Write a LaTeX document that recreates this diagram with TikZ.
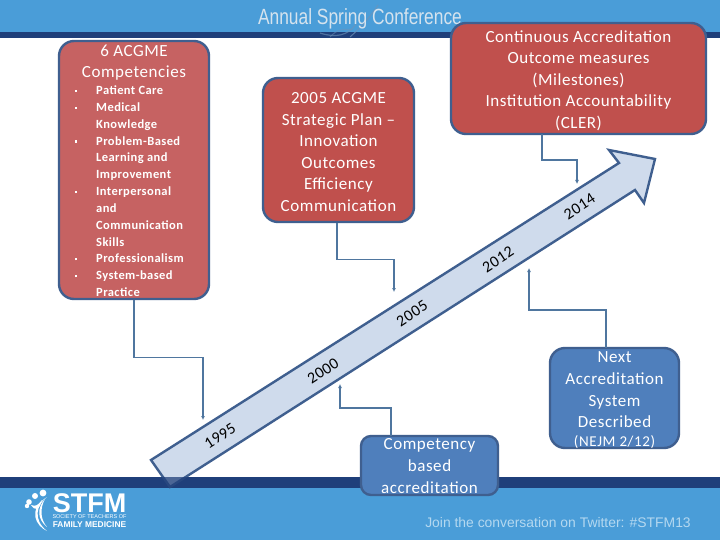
\documentclass[tikz,border=0pt]{standalone}
\usepackage{fontspec}
\setmainfont{Carlito}
\newfontfamily\hfont{Liberation Sans}
\usetikzlibrary{arrows.meta}
\definecolor{hblue}{HTML}{4A9DD8}
\definecolor{hdark}{HTML}{1F3F7A}
\definecolor{edgeb}{HTML}{3F5F8F}
\definecolor{redbox}{HTML}{C0504D}
\definecolor{redlight}{HTML}{C66262}
\definecolor{bluebox}{HTML}{4F7FBC}
\definecolor{arrowfill}{HTML}{CFDBEC}
\definecolor{linkc}{HTML}{4F769F}
\definecolor{htext}{HTML}{D5E3EE}
\definecolor{ftext}{HTML}{B4D8F0}
\definecolor{swirl}{HTML}{6F93B8}
\tikzset{
  box/.style={draw=edgeb,line width=2.4pt,rounded corners=15pt,inner sep=0pt},
  boxtxt/.style={text=white,align=center,inner sep=0pt,font=\fontsize{17}{21.6}\selectfont\addfontfeature{LetterSpace=3.3}},
  listtxt/.style={text=white,align=left,inner sep=0pt,font=\fontsize{12.5}{16.85}\selectfont\bfseries\addfontfeature{LetterSpace=3.4}},
  link/.style={draw=linkc,line width=1.4pt,-{Latex[length=4pt,width=4pt]}},
  yr/.style={rotate=33,text=black,inner sep=0pt,font=\fontsize{16}{16}\selectfont\addfontfeature{LetterSpace=3}}
}
\newcommand{\bl}{\makebox[22pt][l]{\hspace{1pt}\rule[2.5pt]{2.2pt}{2.2pt}}}
\newcommand{\ind}{\hspace*{22pt}}
\begin{document}
\begin{tikzpicture}[x=1pt,y=-1pt]
\useasboundingbox (0,0) rectangle (720,540);
\fill[white] (0,0) rectangle (720,540);
% header / footer
\fill[hblue] (0,0) rectangle (720,32);
\fill[hdark] (0,32) rectangle (720,38);
\fill[hblue] (0,488) rectangle (720,540);
\fill[hdark] (0,477) rectangle (720,488);
\draw[swirl,opacity=.7,line width=1pt] (378,5) .. controls (368,20) and (360,28) .. (350,37);
\draw[swirl,opacity=.6,line width=1.2pt] (320,33) .. controls (335,38) and (348,36) .. (356,24);
\draw[swirl,opacity=.5,line width=1pt] (330,37) .. controls (336,30) and (344,28) .. (352,30);
\node[text=htext,inner sep=0pt,anchor=center] (title) at (360,19) {\hfont\fontsize{22}{22}\selectfont\addfontfeature{FakeStretch=.79}Annual Spring Conference};
% footer text
\node[text=ftext,inner sep=0pt] (join) at (558,522.5) {\hfont\fontsize{13.9}{13.9}\selectfont Join the conversation on Twitter: \#STFM13};
\node[text=white,inner sep=0pt] (stfm) at (89.5,503) {\hfont\bfseries\fontsize{27}{27}\selectfont STFM};
\node[text=white,inner sep=0pt] (soc) at (89.5,517) {\hfont\fontsize{5.5}{5.5}\selectfont SOCIETY OF TEACHERS OF};
\node[text=white,inner sep=0pt] (fam) at (89.5,524.5) {\hfont\bfseries\fontsize{8.4}{8.4}\selectfont FAMILY MEDICINE};
% logo
\fill[white] (43,493) circle (3.4pt) (35,496) circle (3pt) (29,502) circle (2.8pt) (27,506) circle (2.2pt);
\fill[white] (47,497) .. controls (36,505) and (33,520) .. (47,531) .. controls (36,526) and (27,510) .. (47,497) -- cycle;
\fill[white] (45,499) .. controls (40,508) and (40,519) .. (47,527) .. controls (37,519) and (37,508) .. (45,499) -- cycle;
\fill[white] (31,505) .. controls (36,507) and (38,505) .. (42,500) .. controls (39,511) and (35,511) .. (31,505) -- cycle;
% arrow
\draw[edgeb,line width=2.4pt,fill=arrowfill,line join=miter]
  (151,460) -- (619,163) -- (609,150) -- (655,159) -- (644,203) -- (635,190) -- (170,487) -- cycle;
\begin{scope}
\clip (0,477) rectangle (720,488);
\fill[hdark,opacity=.75] (140,477) rectangle (200,488);
\end{scope}
% year labels
\node[yr] (y95) at (220,436) {1995};
\node[yr] (y00) at (323,371) {2000};
\node[yr] (y05) at (412,313.5) {2005};
\node[yr] (y12) at (498,259.5) {2012};
\node[yr] (y14) at (579.5,206.5) {2014};
% boxes
\node[box,fill=redlight,minimum width=150pt,minimum height=258pt] (b1) at (134,170) {};
\node[box,fill=redbox,minimum width=151pt,minimum height=144pt] (b2) at (338.5,150) {};
\node[box,fill=redbox,minimum width=255pt,minimum height=111pt] (b3) at (578.5,78.5) {};
\node[box,fill=bluebox,minimum width=129pt,minimum height=100pt] (b4) at (614.5,398) {};
\node[box,fill=bluebox,rounded corners=10pt,minimum width=137pt,minimum height=59pt] (b5) at (429.5,465.5) {};
% texts
\node[boxtxt,anchor=center] (t1) at (134,62.5) {6 ACGME\\Competencies};
\node[listtxt,anchor=north west] (t1b) at (74,85.5) {\bl Patient Care\\
\bl Medical\\
\ind Knowledge\\
\bl Problem-Based\\
\ind Learning and\\
\ind Improvement\\
\bl Interpersonal\\
\ind and\\
\ind Communication\\
\ind Skills\\
\bl Professionalism\\
\bl System-based\\
\ind Practice};
\node[boxtxt,anchor=center] (t2) at (338.5,152) {2005 ACGME\\Strategic Plan --\\Innovation\\Outcomes\\Efficiency\\Communication};
\node[boxtxt,anchor=center] (t3) at (578.5,80.5) {Continuous Accreditation\\Outcome measures\\(Milestones)\\Institution Accountability\\(CLER)};
\node[boxtxt,anchor=center] (t4) at (614.5,390) {Next\\Accreditation\\System\\Described};
\node[text=white,inner sep=0pt] (t4b) at (614.5,442) {\fontsize{15}{15}\selectfont\addfontfeature{LetterSpace=4}(NEJM 2/12)};
\node[boxtxt,anchor=center] (t5) at (429.5,466) {Competency\\based\\accreditation};
% connector ends
\coordinate (a1) at (203,420);
\coordinate (a2) at (394,292);
\coordinate (s3) at (542,134);
\coordinate (a3) at (577,184);
\coordinate (s4) at (606,348);
\coordinate (a4) at (529,268);
\coordinate (s5) at (391,436);
\coordinate (a5) at (340,384);
\draw[link] (b1.south) -- ++(0,57) -| (a1);
\draw[link] (b2.south) ++(-1.5,0) -- ++(0,36) -| (a2);
\draw[link] (s3) -- ++(0,26) -| (a3);
\draw[link] (s4) -- ++(0,-38) -| (a4);
\draw[link] (s5) -- ++(0,-28) -| (a5);
\end{tikzpicture}
\end{document}
